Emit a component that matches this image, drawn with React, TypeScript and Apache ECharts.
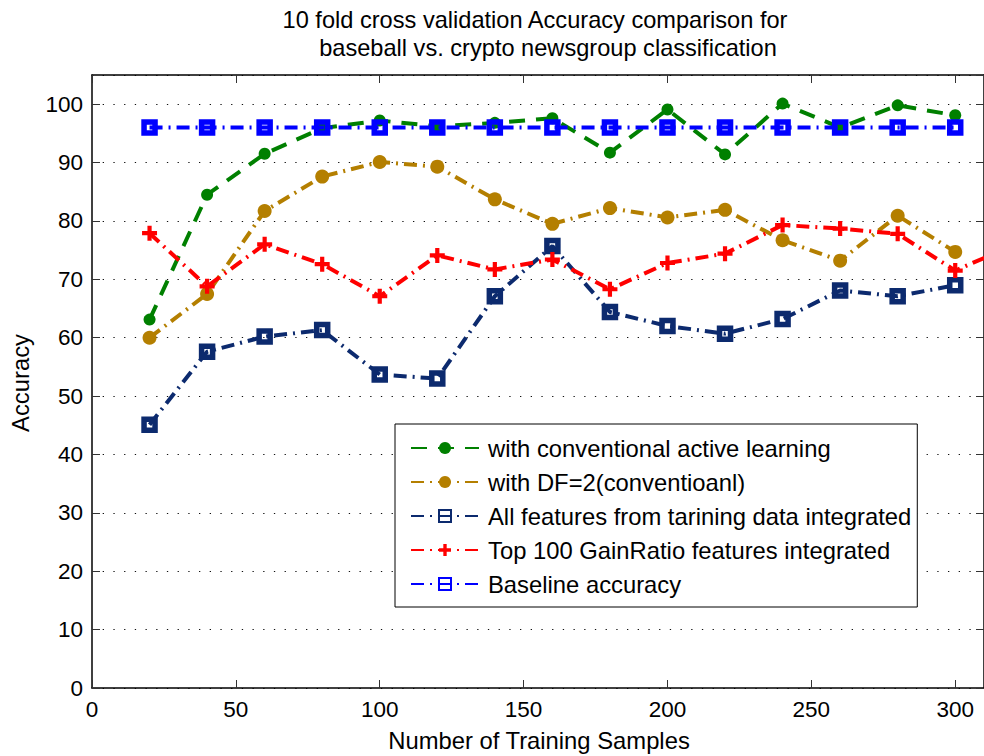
import React, { useEffect, useRef } from "react";
import * as echarts from "echarts";

// Training sample counts (x)
const sampleSizes = [20, 40, 60, 80, 100, 120, 140, 160, 180, 200, 220, 240, 260, 280, 300];
const gainRatioSizes = [20, 40, 60, 80, 100, 120, 140, 160, 180, 200, 220, 240, 260, 280, 300, 320];

// Accuracy values (%)
const activeLearning = [63.1, 84.5, 91.5, 95.9, 97.2, 96.2, 96.8, 97.6, 91.7, 99.1, 91.4, 100.1, 96.0, 99.8, 98.1];
const dfTwo = [60.0, 67.5, 81.7, 87.6, 90.1, 89.3, 83.7, 79.5, 82.2, 80.6, 81.9, 76.7, 73.2, 80.9, 74.7];
const allFeatures = [45.1, 57.6, 60.2, 61.3, 53.7, 53.0, 67.1, 75.7, 64.4, 62.0, 60.7, 63.2, 68.1, 67.1, 69.0];
const gainRatio = [77.9, 68.8, 76.0, 72.6, 67.1, 74.1, 71.7, 73.4, 68.3, 72.8, 74.4, 79.3, 78.7, 77.8, 71.5, 75.8];
const baseline = [96, 96, 96, 96, 96, 96, 96, 96, 96, 96, 96, 96, 96, 96, 96];

const seriesNames = [
  "with conventional active learning",
  "with DF=2(conventioanl)",
  "All features from tarining data integrated",
  "Top 100 GainRatio features integrated",
  "Baseline accuracy",
];

const titleLines = [
  "10 fold cross validation Accuracy comparison for",
  "baseball vs. crypto newsgroup classification",
];
const xAxisTitle = "Number of Training Samples";
const yAxisTitle = "Accuracy";

const FONT = "'Liberation Sans', Arial, Helvetica, sans-serif";
const PLUS = "path://M3.6,0H6.4V3.6H10V6.4H6.4V10H3.6V6.4H0V3.6H3.6Z";

const pairs = (xs: number[], ys: number[]) => xs.map((x, i) => [x, ys[i]]);

export default function App() {
  const ref = useRef<HTMLDivElement>(null);

  useEffect(() => {
    document.body.style.margin = "0";
    if (!ref.current) return;
    const chart = echarts.init(ref.current, undefined, { renderer: "svg" });

    const dashDot = [13, 6, 2, 6];
    const axisCommon = {
      type: "value" as const,
      axisLine: { show: true, onZero: false, lineStyle: { color: "#000", width: 1.5 } },
      axisTick: { show: true, inside: true, length: 8, lineStyle: { color: "#333", width: 1 } },
    };

    chart.setOption({
      animation: false,
      backgroundColor: "#fff",
      textStyle: { fontFamily: FONT },
      grid: { left: 92, top: 75, width: 893, height: 613, containLabel: false },
      xAxis: [
        {
          ...axisCommon,
          position: "bottom",
          min: 0,
          max: 310,
          interval: 50,
          splitLine: { show: false },
          axisLabel: { show: true, color: "#000", fontSize: 22.5, fontFamily: FONT, margin: 10, showMaxLabel: false },
        },
        {
          ...axisCommon,
          position: "top",
          min: 0,
          max: 310,
          interval: 50,
          splitLine: { show: false },
          axisLabel: { show: false },
        },
      ],
      yAxis: [
        {
          ...axisCommon,
          position: "left",
          min: 0,
          max: 105,
          interval: 10,
          splitLine: { show: true, lineStyle: { color: "#111", width: 1, type: [1.3, 9.4] } },
          axisLabel: { show: true, color: "#000", fontSize: 22.5, fontFamily: FONT, margin: 9, showMaxLabel: false },
        },
        {
          ...axisCommon,
          position: "right",
          min: 0,
          max: 105,
          interval: 10,
          splitLine: { show: false },
          axisLabel: { show: false },
        },
      ],
      legend: {
        orient: "vertical",
        left: 395,
        top: 424,
        data: seriesNames,
        backgroundColor: "#fff",
        borderColor: "#000",
        borderWidth: 1,
        padding: [12, 6, 11, 15],
        itemWidth: 68,
        itemHeight: 15,
        itemGap: 10,
        textStyle: { fontSize: 23.8, lineHeight: 24, color: "#000", fontFamily: FONT, padding: [0, 0, 0, 4] },
      },
      graphic: [
        {
          type: "text",
          x: 535,
          y: 20,
          style: { text: titleLines[0], fontSize: 23.6, fontFamily: FONT, fill: "#000", align: "center", verticalAlign: "middle" },
        },
        {
          type: "text",
          x: 548,
          y: 48,
          style: { text: titleLines[1], fontSize: 23.6, fontFamily: FONT, fill: "#000", align: "center", verticalAlign: "middle" },
        },
        {
          type: "text",
          x: 539,
          y: 740,
          style: { text: xAxisTitle, fontSize: 23.8, fontFamily: FONT, fill: "#000", align: "center", verticalAlign: "middle" },
        },
        {
          type: "text",
          x: 20,
          y: 383,
          rotation: Math.PI / 2,
          style: { text: yAxisTitle, fontSize: 23.8, fontFamily: FONT, fill: "#000", align: "center", verticalAlign: "middle" },
        },
      ],
      series: [
        {
          name: seriesNames[0],
          type: "line",
          data: pairs(sampleSizes, activeLearning),
          symbol: "circle",
          symbolSize: 12,
          lineStyle: { color: "#008000", width: 4, type: [16, 11] },
          itemStyle: { color: "#008000" },
          z: 2,
        },
        {
          name: seriesNames[1],
          type: "line",
          data: pairs(sampleSizes, dfTwo),
          symbol: "circle",
          symbolSize: 14,
          lineStyle: { color: "#b47f00", width: 4, type: dashDot },
          itemStyle: { color: "#b47f00" },
          z: 3,
        },
        {
          name: seriesNames[2],
          type: "line",
          data: pairs(sampleSizes, allFeatures),
          symbol: "rect",
          symbolSize: 11,
          lineStyle: { color: "#0c2a6e", width: 4, type: dashDot },
          itemStyle: { color: "rgba(255,255,255,0)", borderColor: "#0c2a6e", borderWidth: 5.5 },
          z: 4,
        },
        {
          name: seriesNames[3],
          type: "line",
          data: pairs(gainRatioSizes, gainRatio),
          symbol: PLUS,
          symbolSize: 15,
          lineStyle: { color: "#ff0000", width: 4, type: dashDot },
          itemStyle: { color: "#ff0000" },
          z: 5,
        },
        {
          name: seriesNames[4],
          type: "line",
          data: pairs(sampleSizes, baseline),
          symbol: "rect",
          symbolSize: 11,
          lineStyle: { color: "#0000ff", width: 4, type: dashDot },
          itemStyle: { color: "rgba(255,255,255,0)", borderColor: "#0000ff", borderWidth: 5.5 },
          z: 6,
        },
      ],
    });

    return () => chart.dispose();
  }, []);

  return <div ref={ref} style={{ width: 984, height: 756 }} />;
}
